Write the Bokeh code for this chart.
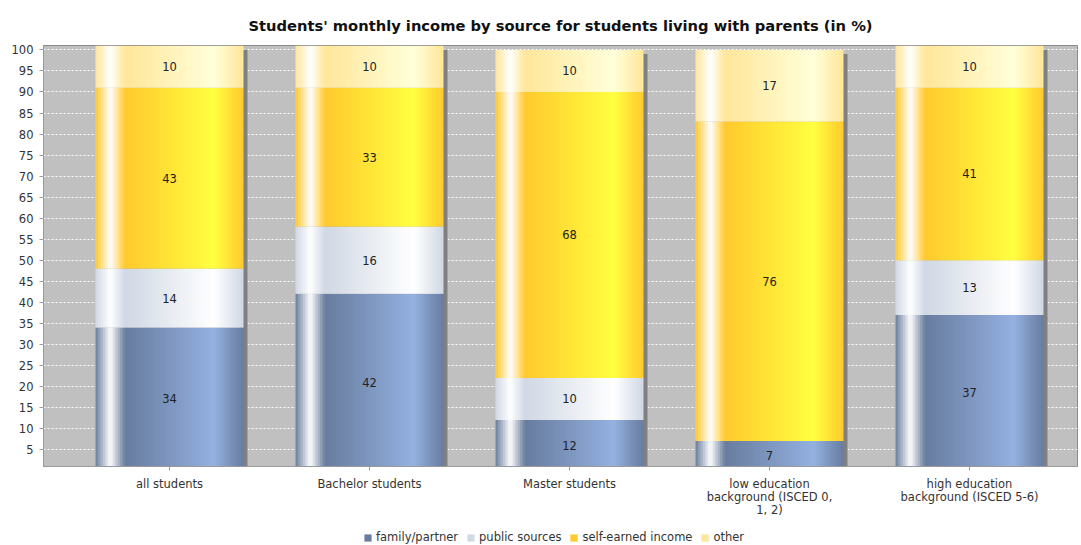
from bokeh.plotting import figure
from bokeh.layouts import column
from bokeh.models import ColumnDataSource, Range1d, FixedTicker, Legend, LegendItem
from bokeh.core.properties import value
from bokeh.embed import file_html
from bokeh.resources import INLINE

# ---------------- data ----------------
categories = [
    "all students",
    "Bachelor students",
    "Master students",
    "low education\nbackground (ISCED 0,\n1, 2)",
    "high education\nbackground (ISCED 5-6)",
]
series_names = ["family/partner", "public sources", "self-earned income", "other"]
family_partner = [34, 42, 12, 7, 37]
public_sources = [14, 16, 10, 0, 13]
self_earned_income = [43, 33, 68, 76, 41]
other = [10, 10, 10, 17, 10]
y_ticks = list(range(5, 101, 5))

series_values = [family_partner, public_sources, self_earned_income, other]
base_colors = [(104, 124, 158), (208, 216, 228), (255, 201, 45), (255, 230, 153)]

FONT = "DejaVu Sans"
BAR_W = 0.74
N_STRIPS = 60
SHADOW_DX = 0.02
SHADOW_DY = 0.95


def brighter(c):
    return tuple(min(255, int(v / 0.7)) for v in c)


def lerp(a, b, t):
    return tuple(a[i] + (b[i] - a[i]) * t for i in range(3))


def grad(c0, t):
    c1 = brighter(c0)
    w = (255, 255, 255)
    if t < 0.1:
        c = lerp(c0, w, t / 0.1)
    elif t < 0.2:
        c = lerp(w, c0, (t - 0.1) / 0.1)
    elif t < 0.8:
        c = lerp(c0, c1, (t - 0.2) / 0.6)
    else:
        c = lerp(c1, c0, (t - 0.8) / 0.2)
    return "#%02x%02x%02x" % tuple(int(round(v)) for v in c)


p = figure(
    width=1081, height=520,
    output_backend="svg", toolbar_location=None,
    x_range=Range1d(-0.63, 4.54), y_range=Range1d(0.95, 101.05),
    title="Students' monthly income by source for students living with parents (in %)",
    min_border_left=43, min_border_right=4, min_border_top=45, min_border_bottom=54,
    background_fill_color="#C0C0C0", border_fill_color="white",
    outline_line_color="#8a8a8a",
)
p.title.align = "center"
p.title.text_font = FONT
p.title.text_font_size = "14.7px"
p.title.text_font_style = "bold"
p.title.text_color = "#111111"
p.title.standoff = 24

# grid
p.xgrid.visible = False
p.ygrid.ticker = FixedTicker(ticks=y_ticks)
p.ygrid.grid_line_color = "white"
p.ygrid.grid_line_dash = "2 2"
p.ygrid.grid_line_width = 1

# shadows
totals = [sum(s[i] for s in series_values) for i in range(len(categories))]
xs = list(range(len(categories)))
shadow_src = ColumnDataSource(dict(
    left=[x - BAR_W / 2 + SHADOW_DX for x in xs],
    right=[x + BAR_W / 2 + SHADOW_DX for x in xs],
    bottom=[0] * len(xs),
    top=[t - SHADOW_DY for t in totals],
))
p.quad(left="left", right="right", bottom="bottom", top="top", source=shadow_src,
       fill_color="#808080", line_color=None)

# gradient bars built from strips
sw = BAR_W / N_STRIPS
lab_x, lab_y, lab_t = [], [], []
bar_sources = []
for si, vals in enumerate(series_values):
    L, R, B, T, C = [], [], [], [], []
    for i, v in enumerate(vals):
        base = sum(series_values[k][i] for k in range(si))
        if v <= 0:
            continue
        for k in range(N_STRIPS):
            l = xs[i] - BAR_W / 2 + k * sw
            r = l + sw + (sw * 0.6 if k < N_STRIPS - 1 else 0)
            L.append(l); R.append(r); B.append(base); T.append(base + v)
            C.append(grad(base_colors[si], (k + 0.5) / N_STRIPS))
        lab_x.append(xs[i]); lab_y.append(base + v / 2); lab_t.append(str(v))
    src = ColumnDataSource(dict(left=L, right=R, bottom=B, top=T, color=C))
    p.quad(left="left", right="right", bottom="bottom", top="top", source=src,
           fill_color="color", line_color=None)
    bar_sources.append(src)

p.text(x=lab_x, y=lab_y, text=lab_t, text_font=value(FONT), text_font_size="11.5px",
       text_align="center", text_baseline="middle", text_color="#222222")

# axes
p.yaxis.ticker = FixedTicker(ticks=y_ticks)
p.xaxis.ticker = FixedTicker(ticks=xs)
p.xaxis.major_label_overrides = {i: c for i, c in enumerate(categories)}
for ax in (p.xaxis[0], p.yaxis[0]):
    ax.major_label_text_font = FONT
    ax.major_label_text_font_size = "11.5px"
    ax.major_label_text_color = "#333333"
    ax.axis_line_color = "#9a9a9a"
    ax.major_tick_line_color = "#9a9a9a"
    ax.major_tick_in = 0
    ax.major_tick_out = 4
    ax.minor_tick_line_color = None
p.yaxis.major_label_standoff = 6
p.xaxis.major_label_standoff = 6
p.xaxis.major_label_text_line_height = 0.95

# legend strip below the chart (its own small figure; glyphs kept out of view)
lf = figure(width=1081, height=25, output_backend="svg", toolbar_location=None,
            x_range=Range1d(10, 11), y_range=Range1d(200, 201),
            min_border=0, outline_line_color=None, border_fill_color="white",
            background_fill_color="white")
lf.axis.visible = False
lf.grid.visible = False
rep_index = int(0.2 * N_STRIPS)
items = []
for name, src in zip(series_names, bar_sources):
    r = lf.quad(left="left", right="right", bottom="bottom", top="top", source=src,
                fill_color="color", line_color=None)
    items.append(LegendItem(label=name, renderers=[r], index=rep_index))
legend = Legend(items=items, orientation="horizontal", location=(320, 1),
                label_text_font=FONT, label_text_font_size="11.5px", label_text_color="#333333",
                glyph_width=9, glyph_height=9, label_standoff=4, spacing=8,
                label_height=13, padding=2, margin=0,
                border_line_color=None, background_fill_alpha=0)
lf.add_layout(legend)

layout = column(p, lf, spacing=0)
open("out.html", "w").write(file_html(layout, INLINE))
